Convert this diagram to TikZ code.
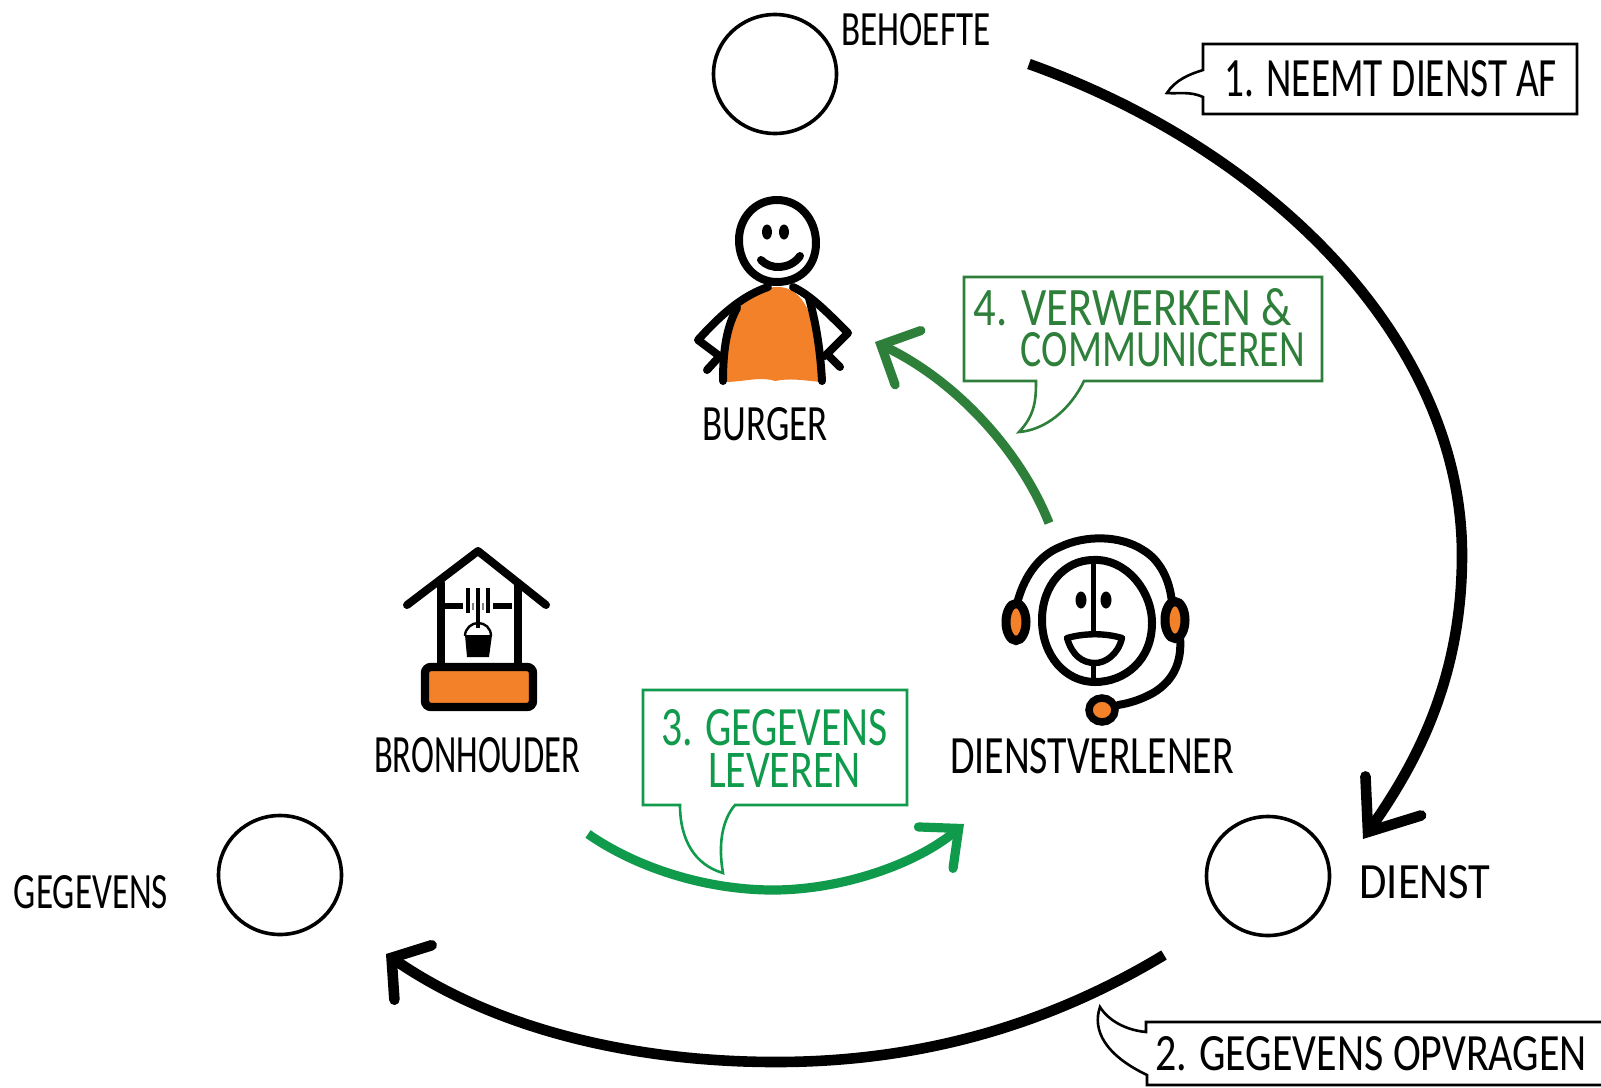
\documentclass[tikz,border=0pt]{standalone}
\usepackage{fontspec}
\usepackage{graphicx}
\setmainfont{Carlito}
\usetikzlibrary{arrows.meta,shapes.geometric}
\definecolor{orangefill}{HTML}{F28129}
\definecolor{greenA}{HTML}{2E7F3A}
\definecolor{greenB}{HTML}{0F9A4C}
\newlength{\unitlen}\setlength{\unitlen}{0.5pt}
\newcommand{\fitlab}[3]{\resizebox{#1\unitlen}{#2\unitlen}{#3}}
\tikzset{
  x=0.5pt,y=-0.5pt,
  lab/.style={inner sep=0pt,outer sep=0pt,anchor=center},
  ring/.style={draw=black,line width=1.8pt,fill=white,ellipse,inner sep=0pt,minimum width=61.5pt,minimum height=59.5pt},
  callout/.style={line width=1.3pt,fill=white,line join=miter},
  ink/.style={draw=black,line width=4pt,line cap=round,line join=round},
  bigarrow/.style={draw=black,line width=5.3pt,line cap=butt},
  greenarrow/.style={line width=4.6pt,line cap=butt},
}
\begin{document}
\begin{tikzpicture}
\useasboundingbox[fill=white] (0,0) rectangle (1601,1087);
% circles
\node[ring] (behoefte) at (775,74) {};
\node[ring] (gegevens) at (280,875) {};
\node[ring] (dienst) at (1268,876) {};
% labels
\node[lab] (tbehoefte) at (916,30) {\fitlab{149}{32}{BEHOEFTE}};
\node[lab] (tgegevens) at (91,892) {\fitlab{154}{33}{GEGEVENS}};
\node[lab] (tdienst) at (1425,882) {\fitlab{131}{33}{DIENST}};
\node[lab] (tburger) at (765,424) {\fitlab{125}{33}{BURGER}};
\node[lab] (tbron) at (477,755) {\fitlab{206}{35}{BRONHOUDER}};
\node[lab] (tdv) at (1092,756) {\fitlab{284}{35}{DIENSTVERLENER}};
% big arrows
\coordinate (a1s) at (1029,64);
\coordinate (a1m) at (1462,555);
\coordinate (a1e) at (1363,839);
\coordinate (a2s) at (1164,955);
\coordinate (a2m) at (776,1062);
\coordinate (a2e) at (386,954);
\draw[bigarrow,-{Straight Barb[length=22pt,width=34pt,line cap=round]}]
  (a1s) .. controls (1270,150) and (1462,340) .. (a1m)
        .. controls (1462,680) and (1415,765) .. (a1e);
\draw[bigarrow,-{Straight Barb[length=13pt,width=33pt,line cap=round]}]
  (a2s) .. controls (1040,1030) and (910,1062) .. (a2m)
        .. controls (640,1062) and (500,1032) .. (a2e);
% callouts
\coordinate (c1a) at (1203,70);
\coordinate (c1t) at (1167,93);
\coordinate (c1b) at (1203,97);
\draw[callout,draw=black] (1203,44) -- (1577,44) -- (1577,114) -- (1203,114) -- (c1b)
  .. controls (1190,91) and (1178,94) .. (c1t) .. controls (1175,80) and (1190,74) .. (c1a) -- cycle;
\node[lab] (t1) at (1391,79) {\fitlab{332}{36}{1. NEEMT DIENST AF}};

\coordinate (c2a) at (1146,1032);
\coordinate (c2t) at (1100,1007);
\coordinate (c2b) at (1147,1075);
\draw[callout,draw=black] (1610,1022) -- (1146,1022) -- (c2a)
  .. controls (1125,1030) and (1108,1020) .. (c2t)
  .. controls (1092,1030) and (1105,1055) .. (c2b) -- (1147,1085) -- (1610,1085);
\node[lab] (t2) at (1371,1054) {\fitlab{432}{34}{2. GEGEVENS OPVRAGEN}};

\coordinate (c3a) at (680,805);
\coordinate (c3t) at (723,873);
\coordinate (c3b) at (735,805);
\draw[callout,draw=greenB] (643,690) -- (907,690) -- (907,805) -- (c3b)
  .. controls (722,820) and (718,845) .. (c3t) .. controls (695,865) and (680,840) .. (c3a) -- (643,805) -- cycle;
\node[lab,text=greenB,align=left,font=\fontsize{10}{21pt}\selectfont] (t3) at (774.5,748)
  {\fitlab{227}{36}{3. GEGEVENS}\\\hspace*{47\unitlen}\fitlab{153}{34}{LEVEREN}};

\coordinate (c4a) at (1036,381);
\coordinate (c4t) at (1019,432);
\coordinate (c4b) at (1084,381);
\draw[callout,draw=greenA] (964,277) -- (1322,277) -- (1322,381) -- (c4b)
  .. controls (1070,410) and (1045,430) .. (c4t) .. controls (1035,415) and (1036,400) .. (c4a) -- (964,381) -- cycle;
\node[lab,text=greenA,align=left,font=\fontsize{10}{20.5pt}\selectfont] (t4) at (1139.5,327.5)
  {\fitlab{318}{37}{4. VERWERKEN \&}\\\hspace*{47\unitlen}\fitlab{284}{34}{COMMUNICEREN}};
% green arrows
\coordinate (a3s) at (588,834);
\coordinate (a3m) at (773,890);
\coordinate (a3e) at (964,824);
\coordinate (a4s) at (1049,523);
\coordinate (a4e) at (875,342);
\draw[greenarrow,draw=greenB,-{Straight Barb[length=15pt,width=27pt,line cap=round]}]
  (a3s) .. controls (640,870) and (710,890) .. (a3m)
        .. controls (840,890) and (915,865) .. (a3e);
\draw[greenarrow,draw=greenA,-{Straight Barb[length=15pt,width=30pt,line cap=round]}]
  (a4s) .. controls (1020,450) and (955,380) .. (a4e);
% burger figure
\fill[orangefill] (724,382) .. controls (722,335) and (735,290) .. (775,287)
  .. controls (805,285) and (818,320) .. (821,382)
  .. controls (800,380) and (790,378) .. (775,381) .. controls (760,376) and (745,382) .. (724,382) -- cycle;
\draw[ink] (777,200) .. controls (800,200) and (816,220) .. (816,243)
  .. controls (816,268) and (798,282) .. (777,282)
  .. controls (756,282) and (739,265) .. (739,240)
  .. controls (739,218) and (755,200) .. (777,200) -- cycle;
\fill (767,232) ellipse [x radius=5,y radius=7.5];
\fill (784,232) ellipse [x radius=5,y radius=7.5];
\draw[ink] (761,260) .. controls (770,270) and (790,270) .. (800,256);
\draw[ink] (723,381) .. controls (723,345) and (728,325) .. (737,308);
\draw[ink] (822,381) .. controls (820,345) and (815,320) .. (809,298);
\draw[ink] (768,287) .. controls (745,295) and (725,310) .. (698,340) -- (718,355);
\draw[ink] (718,358) -- (707,370);
\draw[ink] (793,287) .. controls (810,295) and (825,310) .. (848,333) -- (825,356);
\draw[ink] (830,357) -- (840,367);
% well
\draw[ink] (407,605) -- (478,551) -- (546,605);
\draw[ink] (441,583) -- (441,666);
\draw[ink] (518,583) -- (518,666);
\draw[draw=black,line width=4.2pt,fill=orangefill,rounded corners=3pt] (425,667) rectangle (533,707);
\draw[draw=black,line width=3pt,line cap=butt] (445,606) -- (463,606) (493,606) -- (512,606);
\draw[draw=black,line width=1.8pt] (468,588) -- (468,613) (478,588) -- (478,628) (488,588) -- (488,613);
\draw[draw=gray,line width=1pt] (473,603) -- (473,610) (483,603) -- (483,610);
\draw[draw=black,line width=1.2pt] (465,636) .. controls (465,628) and (472,623) .. (478,623) .. controls (485,623) and (491,628) .. (491,636);
\fill (465,635) -- (492,635) -- (489,657) -- (467,657) -- cycle;
% headset
\draw[ink] (1018,600) .. controls (1025,575) and (1040,555) .. (1060,547)
  .. controls (1085,535) and (1120,535) .. (1143,550)
  .. controls (1160,560) and (1170,580) .. (1172,603);
\draw[ink] (1093,560) .. controls (1125,558) and (1152,590) .. (1152,623)
  .. controls (1152,660) and (1125,682) .. (1095,682)
  .. controls (1065,682) and (1042,655) .. (1042,620)
  .. controls (1042,585) and (1065,560) .. (1093,560) -- cycle;
\draw[draw=black,line width=2.5pt] (1093,562) -- (1093,633) (1093,663) -- (1093,680);
\fill (1081,600) ellipse [x radius=5.5,y radius=8.5];
\fill (1106,600) ellipse [x radius=5.5,y radius=8.5];
\draw[ink,line width=3.2pt,fill=white] (1067,638) .. controls (1085,633) and (1105,633) .. (1122,638)
  .. controls (1118,655) and (1105,663) .. (1095,663) .. controls (1082,663) and (1072,655) .. (1067,638) -- cycle;
\draw[draw=black,line width=4.5pt,fill=orangefill] (1016,622) ellipse [x radius=10,y radius=18.5];
\draw[draw=black,line width=4.5pt,fill=orangefill] (1175,620) ellipse [x radius=10,y radius=18.5];
\draw[ink] (1180,637) .. controls (1182,660) and (1175,680) .. (1153,693) .. controls (1140,700) and (1130,703) .. (1118,705);
\draw[draw=black,line width=3.75pt,fill=orangefill] (1102,710) ellipse [x radius=13,y radius=12];
\end{tikzpicture}
\end{document}
